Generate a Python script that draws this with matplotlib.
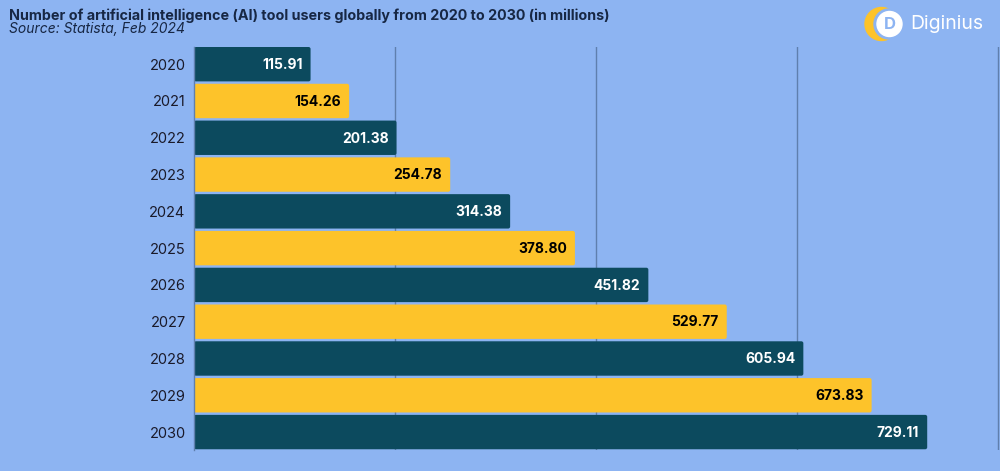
import matplotlib
matplotlib.use("Agg")
import matplotlib.pyplot as plt
from matplotlib.patches import FancyBboxPatch, Circle

years = ["2020", "2021", "2022", "2023", "2024", "2025", "2026", "2027", "2028", "2029", "2030"]
values = [115.91, 154.26, 201.38, 254.78, 314.38, 378.80, 451.82, 529.77, 605.94, 673.83, 729.11]
labels = ["115.91", "154.26", "201.38", "254.78", "314.38", "378.80", "451.82", "529.77", "605.94", "673.83", "729.11"]
grid_ticks = [200, 400, 600, 800]

BG = "#8db4f2"
DARK = "#0c4a5e"
YEL = "#fdc32a"
FONT = ["Inter", "DejaVu Sans"]

fig = plt.figure(figsize=(10, 4.71), dpi=100, facecolor=BG)
ax = fig.add_axes([0.194, 1 - 450/471, 0.806, (450 - 47)/471])
ax.set_facecolor(BG)

h = 0.935
n = len(years)
for i, (y, v, lab) in enumerate(zip(years, values, labels)):
    col = DARK if i % 2 == 0 else YEL
    tcol = "white" if i % 2 == 0 else "black"
    p = FancyBboxPatch((0, i - h/2), v, h,
                       boxstyle="round,pad=0,rounding_size=2",
                       mutation_aspect=1/36.8,
                       facecolor=col, edgecolor="none", zorder=3)
    ax.add_patch(p)
    ax.text(v - 8, i + 0.02, lab, ha="right", va="center", color=tcol,
            fontsize=10, fontweight="bold", family=FONT, zorder=4)

ax.set_xlim(0, 801.5)
ax.set_ylim(n - 1 + h/2 + 0.02, -h/2)
ax.set_yticks(range(n))
ax.set_yticklabels(years, family=FONT, fontsize=10.5, color="#1a1a2a")
ax.tick_params(axis="y", length=0, pad=6)
ax.set_xticks([])
for gx in grid_ticks:
    ax.axvline(gx, color="#5f7fae", lw=1.0, zorder=1)
for s in ["top", "right", "bottom"]:
    ax.spines[s].set_visible(False)
ax.spines["left"].set_color("#5f7fae")
ax.spines["left"].set_linewidth(1.0)
ax.spines["left"].set_zorder(5)

fig.text(0.009, 1 - 15.5/471, "Number of artificial intelligence (AI) tool users globally from 2020 to 2030 (in millions)",
         ha="left", va="center", fontsize=10.3, fontweight="bold", family=FONT, color="#172744")
fig.text(0.009, 1 - 28.5/471, "Source: Statista, Feb 2024",
         ha="left", va="center", fontsize=10, style="italic", family=FONT, color="#172744")

# logo (pixel coordinates overlay)
lax = fig.add_axes([0, 0, 1, 1], zorder=10)
lax.set_xlim(0, 1000)
lax.set_ylim(471, 0)
lax.axis("off")
lax.patch.set_alpha(0)
lax.add_patch(Circle((881.5, 24), 16.5, color=YEL))
lax.add_patch(Circle((889, 24), 15, color=BG))
lax.add_patch(Circle((889.5, 24), 12.5, color="white"))
lax.text(889.5, 24.5, "D", ha="center", va="center", color=BG, fontsize=12, fontweight="bold", family=FONT)
lax.text(910, 24, "Diginius", ha="left", va="center", fontsize=14, color="white", family=FONT)

fig.savefig("out.png", dpi=100, facecolor=BG)
